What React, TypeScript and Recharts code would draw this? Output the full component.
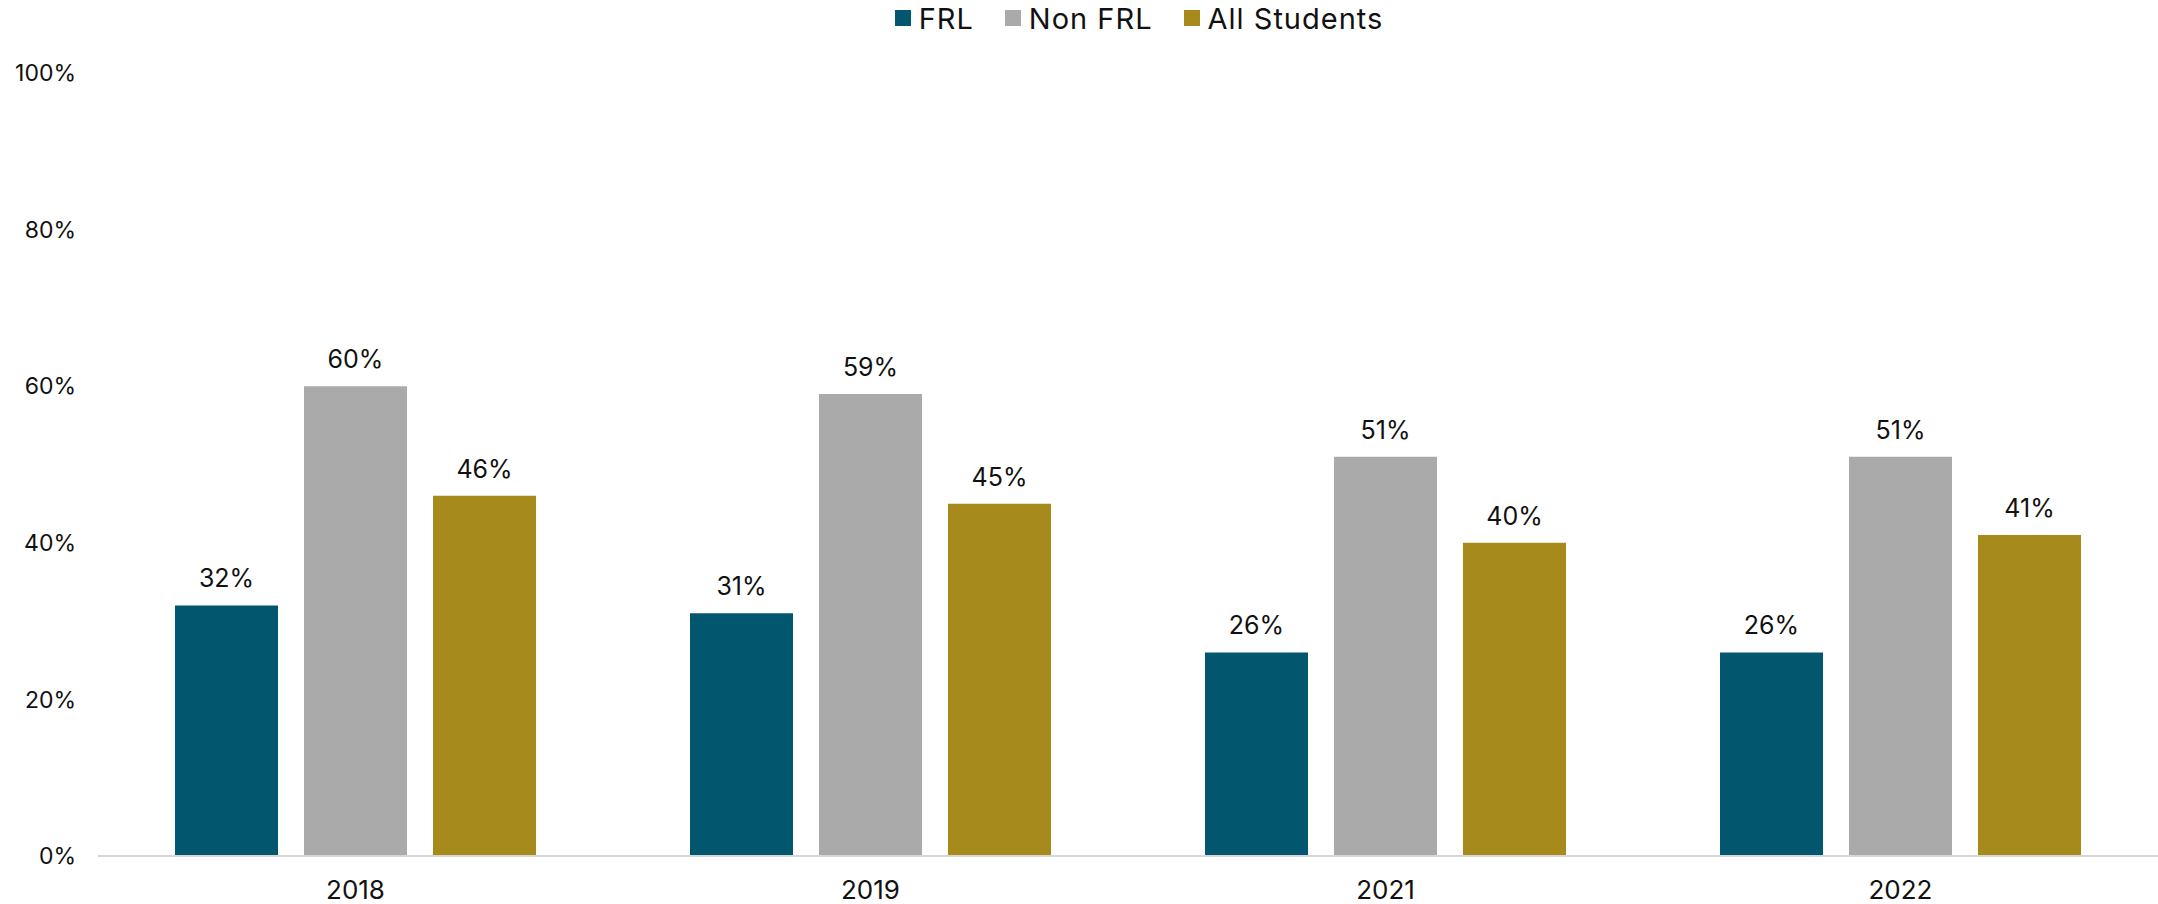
import { BarChart, Bar, XAxis, YAxis, Legend, LabelList } from "recharts";

const years = ["2018", "2019", "2021", "2022"];
const frl = [32, 31, 26, 26];
const nonFrl = [60, 59, 51, 51];
const allStudents = [46, 45, 40, 41];
const yTicks = [0, 20, 40, 60, 80, 100];

const series = [
  { key: "frl", name: "FRL", color: "#02566E" },
  { key: "nonFrl", name: "Non FRL", color: "#AAAAAA" },
  { key: "all", name: "All Students", color: "#A68B1C" },
];

const data = years.map((year, i) => ({
  year,
  frl: frl[i],
  nonFrl: nonFrl[i],
  all: allStudents[i],
}));

const FONT = "Inter, 'DejaVu Sans', sans-serif";

function LegendContent() {
  return (
    <div
      style={{
        height: 36,
        display: "flex",
        justifyContent: "center",
        alignItems: "center",
        paddingLeft: 120,
        fontFamily: FONT,
        fontSize: 29,
        letterSpacing: 1,
        color: "#111",
      }}
    >
      {series.map((s, i) => (
        <div
          key={s.key}
          style={{ display: "flex", alignItems: "center", marginLeft: i === 0 ? 0 : 31 }}
        >
          <span
            style={{ width: 16, height: 16, background: s.color, display: "inline-block", marginRight: 8 }}
          />
          <span>{s.name}</span>
        </div>
      ))}
    </div>
  );
}

export default function App() {
  return (
    <div style={{ position: "absolute", left: 0, top: 0, fontFamily: FONT }}>
      <BarChart
        width={2158}
        height={904}
        data={data}
        margin={{ top: 37, right: 0, bottom: 0, left: 0 }}
        barSize={103}
        barGap={26}
      >
        <Legend
          verticalAlign="top"
          content={<LegendContent />}
          wrapperStyle={{ top: 0, left: 0, width: 2158 }}
        />
        <XAxis
          dataKey="year"
          height={48}
          tickSize={0}
          tickMargin={25}
          axisLine={{ stroke: "#D6D6D6", strokeWidth: 2 }}
          tickLine={false}
          tick={{ fill: "#111", fontSize: 26, fontFamily: FONT }}
        />
        <YAxis
          width={98}
          domain={[0, 100]}
          ticks={yTicks}
          tickFormatter={(v) => `${v}%`}
          axisLine={false}
          tickLine={false}
          tickSize={0}
          tickMargin={22}
          tick={{ fill: "#111", fontSize: 23, fontFamily: FONT }}
        />
        {series.map((s) => (
          <Bar key={s.key} dataKey={s.key} name={s.name} fill={s.color} isAnimationActive={false}>
            <LabelList
              dataKey={s.key}
              position="top"
              offset={18}
              formatter={(v: any) => `${v}%`}
              style={{ fill: "#111", fontSize: 25, fontFamily: FONT }}
            />
          </Bar>
        ))}
      </BarChart>
    </div>
  );
}
